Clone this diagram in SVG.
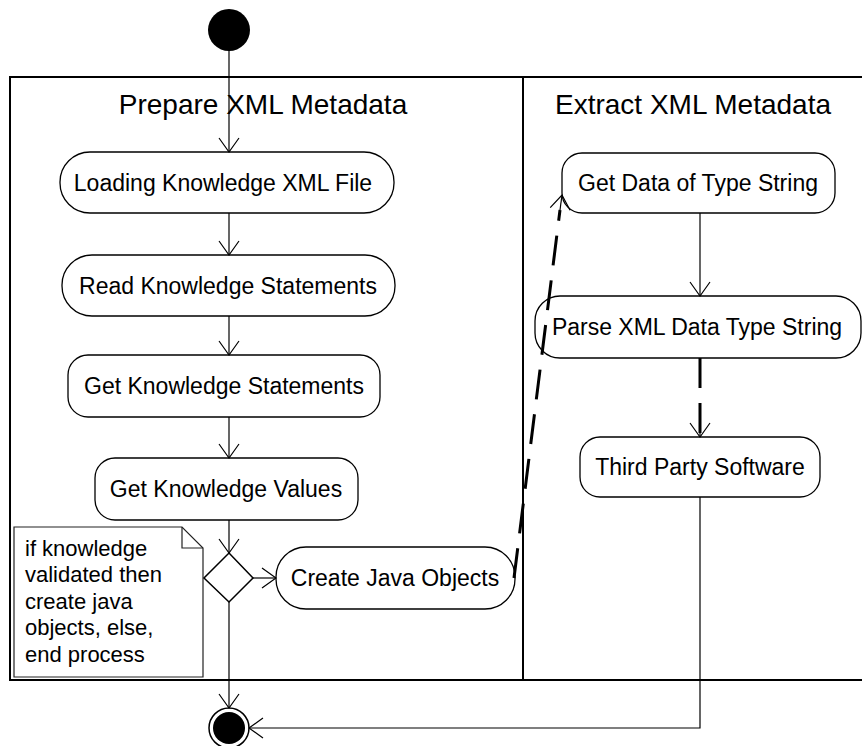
<svg xmlns="http://www.w3.org/2000/svg" width="862" height="746" viewBox="0 0 862 746">
<style>
text{font-family:"Liberation Sans",Arial,sans-serif;fill:#000}
.t{font-size:28px;text-anchor:middle}
.n{font-size:23px;text-anchor:middle}
.note{font-size:22px}
.act{fill:#fff;stroke:#000;stroke-width:1.3}
.c{fill:none;stroke:#000;stroke-width:1.2}
.d{fill:none;stroke:#000;stroke-width:3;stroke-dasharray:30 15}
</style>
<defs>
<marker id="a" markerUnits="userSpaceOnUse" markerWidth="20" markerHeight="24" refX="15" refY="11" orient="auto" viewBox="0 0 20 24">
<path d="M1,1 L15,11 L1,21" fill="none" stroke="#000" stroke-width="1.2"/>
</marker>
</defs>
<rect width="862" height="746" fill="#fff"/>
<g id="lanes">
<rect x="10" y="77" width="860" height="603" fill="none" stroke="#000" stroke-width="2"/>
<line x1="523" y1="77" x2="523" y2="680" stroke="#000" stroke-width="2"/>
<text class="t" x="263" y="114">Prepare XML Metadata</text>
<text class="t" x="693" y="114">Extract XML Metadata</text>
</g>
<g id="start"><circle cx="229" cy="30" r="21" fill="#000"/></g>
<g id="note">
<path d="M14,527 H182 L203,548 V677 H14 Z" fill="#fff" stroke="#222" stroke-width="1.2"/>
<path d="M182,527 V548 H203" fill="none" stroke="#222" stroke-width="1.2"/>
<text class="note" x="25" y="556">if knowledge</text>
<text class="note" x="25" y="582">validated then</text>
<text class="note" x="25" y="609">create java</text>
<text class="note" x="25" y="635">objects, else,</text>
<text class="note" x="25" y="662">end process</text>
</g>
<g id="loading"><rect class="act" x="60" y="152" width="334" height="61" rx="30"/><text class="n" x="223" y="191">Loading Knowledge XML File</text></g>
<g id="read"><rect class="act" x="62" y="255" width="333" height="61" rx="30"/><text class="n" x="228" y="294">Read Knowledge Statements</text></g>
<g id="getstatements"><rect class="act" x="68" y="355" width="312" height="62" rx="20"/><text class="n" x="224" y="394">Get Knowledge Statements</text></g>
<g id="getvalues"><rect class="act" x="95" y="458" width="263" height="62" rx="20"/><text class="n" x="226" y="497">Get Knowledge Values</text></g>
<g id="decision"><path d="M229,553 L253,578 L229,602 L204,578 Z" fill="#fff" stroke="#000" stroke-width="1.5"/></g>
<g id="createjava"><rect class="act" x="276" y="547" width="239" height="62" rx="30"/><text class="n" x="395" y="586">Create Java Objects</text></g>
<g id="getdata"><rect class="act" x="562" y="153" width="273" height="60" rx="20"/><text class="n" x="698" y="191">Get Data of Type String</text></g>
<g id="parse"><rect class="act" x="535" y="296" width="326" height="62" rx="25"/><text class="n" x="697" y="335">Parse XML Data Type String</text></g>
<g id="thirdparty"><rect class="act" x="580" y="437" width="240" height="60" rx="20"/><text class="n" x="700" y="475">Third Party Software</text></g>
<g id="end"><circle cx="229" cy="728" r="20" fill="#fff" stroke="#000" stroke-width="1.5"/><circle cx="229" cy="728" r="16" fill="#000"/></g>
<g id="connectors">
<line class="c" x1="229" y1="51" x2="229" y2="152" marker-end="url(#a)"/>
<line class="c" x1="229" y1="213" x2="229" y2="255" marker-end="url(#a)"/>
<line class="c" x1="229" y1="316" x2="229" y2="355" marker-end="url(#a)"/>
<line class="c" x1="229" y1="417" x2="229" y2="458" marker-end="url(#a)"/>
<line class="c" x1="229" y1="520" x2="229" y2="553" marker-end="url(#a)"/>
<line class="c" x1="253" y1="578" x2="276" y2="578" marker-end="url(#a)"/>
<line class="c" x1="229" y1="602" x2="229" y2="708" marker-end="url(#a)"/>
<line class="c" x1="700" y1="213" x2="700" y2="296" marker-end="url(#a)"/>
<line class="d" x1="700" y1="358" x2="700" y2="437"/>
<line class="c" x1="700" y1="420" x2="700" y2="437" marker-end="url(#a)"/>
<path class="c" d="M700,497 V728 H249" marker-end="url(#a)"/>
<line class="d" x1="514" y1="578" x2="560" y2="210"/>
<line class="c" x1="560" y1="210" x2="562" y2="195" marker-end="url(#a)"/>
</g>
</svg>
